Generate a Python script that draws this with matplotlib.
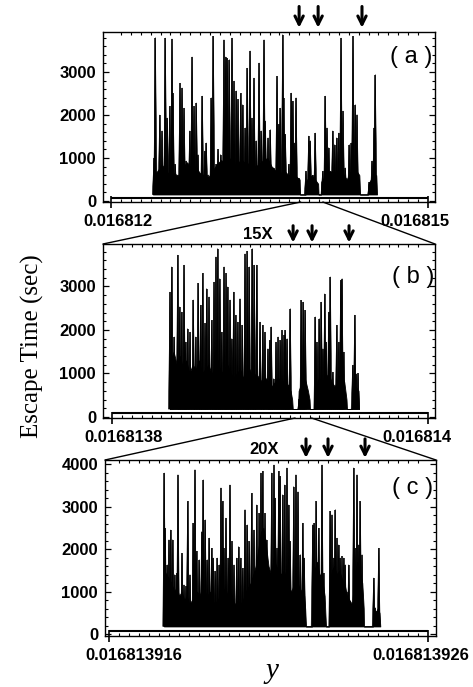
import numpy as np
import matplotlib
matplotlib.use("Agg")
import matplotlib.pyplot as plt
from matplotlib.patches import ConnectionPatch
from matplotlib.collections import PolyCollection
from matplotlib.ticker import MultipleLocator
import matplotlib.transforms as mtransforms

plt.rcParams['font.family'] = ['Liberation Sans', 'DejaVu Sans']

# ---------------- panel (a): y = 0.016812 + off * 1e-9 ----------------
a_x0, a_unit, a_span = 0.016812, 1e-9, 3000
a_ticklabels = ['0.016812', '0.016815']
a_yticks = [0, 1000, 2000, 3000]
a_base, a_floor = 70, 150
a_env_x = [397, 400, 440, 480, 520, 560, 600, 640, 680, 720, 760, 800, 840, 880, 920, 960,
           1000, 1040, 1080, 1120, 1160, 1200, 1240, 1280, 1320, 1360, 1400, 1440, 1480, 1520,
           1560, 1600, 1640, 1680, 1720, 1760, 1785, 1789, 1841, 1845, 1870, 1900, 1930, 1960,
           1964, 1987, 1990, 2030, 2070, 2110, 2150, 2190, 2230, 2270, 2310, 2350, 2357, 2432,
           2436, 2470, 2510, 2517]
a_env_y = [150, 600, 700, 850, 700, 600, 650, 550, 800, 900, 750, 800, 650, 600, 550, 700,
           850, 950, 900, 1000, 850, 900, 950, 850, 900, 800, 850, 950, 1000, 800,
           700, 650, 700, 600, 650, 550, 500, 150, 150, 450, 550, 600, 500, 400,
           150, 150, 450, 600, 700, 650, 700, 650, 500, 700, 750, 600, 150, 150,
           400, 550, 600, 150]
a_spk_x = [407, 420, 461, 483, 514, 533, 555, 577, 587, 609, 634, 653, 672, 691, 713, 745,
           767, 786, 808, 823, 864, 887, 902, 918, 950, 968, 997, 1013, 1038, 1069, 1085,
           1101, 1120, 1145, 1164, 1186, 1202, 1227, 1246, 1271, 1290, 1316, 1334, 1353,
           1375, 1401, 1423, 1448, 1461, 1486, 1508, 1540, 1571, 1587, 1602, 1625, 1634,
           1650, 1682, 1706, 1720, 1735, 1751, 1776, 1845, 1871, 1886, 1909, 1933, 1950,
           2003, 2028, 2044, 2060, 2076, 2098, 2117, 2136, 2155, 2177, 2196, 2218, 2234,
           2255, 2274, 2290, 2312, 2328, 2344, 2445, 2470, 2489, 2501]
a_spk_y = [1000, 3800, 2000, 1630, 3790, 1930, 2200, 3770, 2500, 850, 610, 2740, 2630, 2160,
           930, 1630, 3350, 2200, 2280, 1080, 2440, 1160, 1350, 610, 2400, 3830, 850, 1200,
           1080, 3750, 3350, 3320, 3290, 3790, 2790, 2560, 2360, 2500, 2240, 1700, 3090,
           3490, 1930, 2860, 1400, 3210, 1630, 3750, 1860, 1470, 1660, 770, 2900, 1780,
           2160, 3870, 2400, 1550, 850, 2510, 2320, 1350, 2400, 530, 690, 1510, 1400, 600,
           1580, 370, 690, 2440, 1700, 1240, 600, 1630, 1310, 1470, 1580, 3790, 2090, 770,
           460, 1310, 1350, 3830, 2240, 2010, 400, 430, 930, 1700, 2940]
a_arrows = [1780, 1960, 2375]

# ---------------- panel (b): y = 0.0168138 + off * 1e-10 ----------------
b_x0, b_unit, b_span = 0.0168138, 1e-10, 2000
b_ticklabels = ['0.0168138', '0.016814']
b_yticks = [0, 1000, 2000, 3000]
b_base, b_floor = 90, 180
b_env_x = [367, 370, 390, 410, 430, 450, 470, 490, 510, 530, 550, 570, 590, 610, 630, 650,
           670, 690, 710, 730, 750, 770, 790, 810, 830, 850, 870, 890, 910, 930, 950, 970,
           990, 1010, 1030, 1050, 1070, 1090, 1110, 1130, 1140, 1144, 1177, 1181, 1200, 1220,
           1240, 1250, 1253, 1285, 1289, 1310, 1330, 1350, 1370, 1390, 1410, 1430, 1450,
           1470, 1484, 1487, 1519, 1522, 1540, 1560, 1563]
b_env_y = [180, 1300, 1500, 1200, 1400, 1100, 1300, 1000, 1200, 1100, 1300, 1000, 1100, 1200,
           1000, 1100, 1300, 1000, 1100, 1200, 1000, 900, 1000, 1100, 900, 1000, 1100, 900,
           1000, 900, 800, 900, 800, 700, 800, 900, 800, 850, 700, 600, 400, 180, 180, 600,
           800, 900, 600, 400, 180, 180, 700, 900, 800, 900, 1000, 800, 700, 900, 1000, 800,
           400, 180, 180, 500, 700, 600, 180]
b_spk_x = [367, 378, 394, 416, 428, 441, 456, 466, 479, 494, 515, 530, 546, 561, 574, 589,
           599, 614, 631, 646, 658, 669, 682, 694, 709, 722, 732, 747, 758, 770, 783, 796,
           810, 825, 842, 856, 869, 888, 901, 916, 937, 954, 968, 987, 998, 1008, 1023, 1038,
           1051, 1065, 1076, 1089, 1097, 1108, 1118, 1128, 1185, 1198, 1211, 1223, 1287,
           1297, 1312, 1325, 1335, 1346, 1356, 1371, 1382, 1397, 1409, 1422, 1435, 1447,
           1456, 1466, 1523, 1536, 1546, 1557]
b_spk_y = [2870, 3450, 1840, 3720, 2530, 2410, 3490, 1720, 2030, 1950, 2690, 1840, 3070, 2570,
           3300, 2150, 2950, 2760, 2220, 3100, 3680, 3870, 3180, 1950, 3450, 3300, 2990, 2690,
           1800, 2870, 2340, 2180, 2720, 2110, 3750, 3810, 3450, 3870, 3490, 3490, 2180, 2110,
           1950, 1570, 1760, 2070, 880, 1720, 1840, 1760, 1990, 1880, 1990, 1800, 740, 2490,
           420, 2680, 2640, 2450, 2300, 1720, 2260, 2640, 1570, 2830, 1720, 2410, 3220, 1030,
           540, 2110, 1720, 3140, 3180, 1490, 1190, 2340, 990, 1000]
b_arrows = [1146, 1266, 1500]

# ---------------- panel (c): y = 0.016813916 + off * 1e-12 ----------------
c_x0, c_unit, c_span = 0.016813916, 1e-12, 10000
c_ticklabels = ['0.016813916', '0.016813926']
c_yticks = [0, 1000, 2000, 3000, 4000]
c_base, c_floor = 70, 180
c_env_x = [1724, 1730, 1800, 1880, 1960, 2040, 2120, 2200, 2280, 2360, 2440, 2520, 2600,
           2680, 2760, 2840, 2920, 3000, 3080, 3160, 3240, 3320, 3400, 3480, 3560, 3640,
           3720, 3800, 3880, 3960, 4040, 4120, 4200, 4280, 4360, 4440, 4520, 4600, 4680,
           4760, 4840, 4920, 5000, 5080, 5160, 5240, 5320, 5400, 5480, 5560, 5640, 5720,
           5800, 5880, 5960, 6040, 6120, 6150, 6176, 6364, 6380, 6440, 6520, 6600, 6680,
           6760, 6782, 6803, 6897, 6920, 6990, 7060, 7140, 7220, 7300, 7380, 7460, 7540,
           7620, 7700, 7780, 7860, 7940, 7985, 7994, 8276, 8290, 8350, 8420, 8480, 8505]
c_env_y = [180, 1500, 1400, 1300, 1200, 1000, 1100, 900, 1000, 800, 900, 700, 800, 900, 1000,
           900, 1100, 1000, 900, 1000, 800, 700, 800, 900, 1000, 1100, 900, 1000, 800, 700,
           800, 700, 800, 1000, 1100, 1200, 1400, 1600, 2000, 2400, 2500, 2100, 1600, 1400,
           1800, 1600, 1500, 1400, 1500, 1300, 1100, 1000, 1200, 1300, 1100, 1000, 900, 600,
           180, 180, 1000, 1500, 1700, 1400, 1300, 900, 500, 180, 180, 1200, 1500, 1600,
           1400, 1500, 1300, 1200, 900, 800, 700, 1400, 1700, 1500, 1200, 600, 180, 180, 600,
           500, 600, 500, 180]
c_spk_x = [1734, 1766, 1829, 1881, 1934, 1996, 2059, 2122, 2163, 2226, 2289, 2351, 2414,
           2466, 2539, 2602, 2644, 2696, 2748, 2832, 2905, 2957, 3020, 3082, 3145, 3218,
           3270, 3333, 3396, 3458, 3511, 3563, 3605, 3668, 3741, 3793, 3856, 3919, 4002,
           4065, 4127, 4190, 4264, 4336, 4399, 4472, 4546, 4629, 4713, 4765, 4817, 4891,
           4943, 5027, 5100, 5173, 5214, 5267, 5320, 5370, 5445, 5508, 5580, 5634, 5684,
           5759, 5790, 5862, 5925, 5997, 6072, 6123, 6385, 6437, 6500, 6574, 6625, 6678,
           6730, 6938, 6991, 7044, 7095, 7148, 7201, 7252, 7305, 7358, 7408, 7461, 7515,
           7565, 7618, 7671, 7722, 7775, 7828, 7879, 7932, 8298, 8349, 8402, 8455]
c_spk_y = [3790, 2490, 1630, 2220, 2450, 2220, 1400, 1430, 3750, 690, 1900, 1160, 1120, 3120,
           1400, 660, 2610, 3870, 1950, 1750, 2410, 3630, 2690, 1750, 2260, 2020, 1790, 1480,
           1790, 1630, 3440, 3120, 2020, 2730, 1790, 3510, 2180, 1630, 1790, 2060, 1790, 1550,
           2930, 2570, 2180, 3310, 2450, 3040, 2840, 3790, 3830, 2840, 2220, 1400, 3790, 3980,
           3200, 2020, 3830, 3710, 3280, 3510, 3910, 3040, 2180, 850, 3470, 3750, 3350, 1870,
           2610, 1790, 2570, 2610, 3120, 2490, 1400, 3980, 1430, 2890, 2810, 1790, 2930, 2260,
           2100, 1790, 1830, 1790, 1630, 1000, 1630, 770, 620, 3910, 2020, 3750, 2100, 3120,
           1870, 1320, 620, 540, 2020]
c_arrows = [6176, 6866, 8026]

zoom_labels = ['15X', '20X']

# ---------------- layout ----------------
W, H = 473, 687
fig = plt.figure(figsize=(W / 100, H / 100), dpi=100)


def px_axes(l, r, t, b):
    return [l / W, 1 - b / H, (r - l) / W, (b - t) / H]


panels = [
    dict(rect=px_axes(103, 435, 32, 202), x0=a_x0, unit=a_unit, span=a_span,
         xl=(-76, 3066), yl=(-25, 3930), tl=a_ticklabels, yt=a_yticks,
         base=a_base, floor=a_floor, ex=a_env_x, ey=a_env_y, sx=a_spk_x, sy=a_spk_y,
         arrows=a_arrows, arr=(1.025, 1.15), lab='( a )', labpos=(0.928, 0.853),
         tlshift=(7, -13), hw=1.7),
    dict(rect=px_axes(103, 435, 244, 418), x0=b_x0, unit=b_unit, span=b_span,
         xl=(-57, 2044), yl=(-25, 3975), tl=b_ticklabels, yt=b_yticks,
         base=b_base, floor=b_floor, ex=b_env_x, ey=b_env_y, sx=b_spk_x, sy=b_spk_y,
         arrows=b_arrows, arr=(1.008, 1.105), lab='( b )', labpos=(0.934, 0.81),
         tlshift=(12, -11), hw=1.5),
    dict(rect=px_axes(105, 436, 460, 636), x0=c_x0, unit=c_unit, span=c_span,
         xl=(-125, 10251), yl=(-45, 4095), tl=c_ticklabels, yt=c_yticks,
         base=c_base, floor=c_floor, ex=c_env_x, ey=c_env_y, sx=c_spk_x, sy=c_spk_y,
         arrows=c_arrows, arr=(1.012, 1.12), lab='( c )', labpos=(0.93, 0.84),
         tlshift=(25, -7), hw=1.5),
]

axes = []
for p in panels:
    ax = fig.add_axes(p['rect'])
    axes.append(ax)
    ax.set_xlim(*p['xl'])
    ax.set_ylim(*p['yl'])
    # flat baseline over the whole scanned interval
    ax.plot([0, p['span']], [p['base'], p['base']], color='k', lw=1.5,
            solid_capstyle='butt', zorder=2)
    # dense low-level mass
    ex = np.array(p['ex'], float)
    ey = np.array(p['ey'], float)
    ax.fill_between(ex, p['floor'], ey, color='k', lw=0.6, zorder=3)
    # individual escape-time spikes: tapered bursts with a thin tip
    px_per_unit = (p['rect'][2] * W) / (p['xl'][1] - p['xl'][0])
    w = p['hw'] / px_per_unit
    tris = [[(x - w, p['floor']), (x, h), (x + w, p['floor'])]
            for x, h in zip(p['sx'], p['sy'])]
    ax.add_collection(PolyCollection(tris, facecolors='k', edgecolors='k',
                                     linewidths=0.4, zorder=4))
    ax.vlines(p['sx'], p['floor'], p['sy'], color='k', lw=1.1, zorder=4)

    ax.set_xticks([0, p['span']])
    ax.set_xticklabels(p['tl'])
    ax.xaxis.set_minor_locator(MultipleLocator(p['span'] / 32))
    ax.set_yticks(p['yt'])
    ax.yaxis.set_minor_locator(MultipleLocator(200))
    ax.tick_params(axis='x', which='major', direction='inout', length=9, width=1.2,
                   top=False, labelsize=12, pad=4)
    ax.tick_params(axis='x', which='minor', direction='in', length=2.5, width=0.8,
                   top=True, bottom=True)
    ax.tick_params(axis='y', which='major', direction='in', length=4, width=0.9,
                   right=True, labelsize=12, pad=5)
    ax.tick_params(axis='y', which='minor', direction='in', length=2.5, width=0.8,
                   right=True)
    for lab in ax.get_xticklabels() + ax.get_yticklabels():
        lab.set_fontweight('bold')
    for lab, dx in zip(ax.get_xticklabels(), p['tlshift']):
        lab.set_transform(lab.get_transform() +
                          mtransforms.ScaledTranslation(dx / 100, 0, fig.dpi_scale_trans))
    for s in ax.spines.values():
        s.set_linewidth(1.0)

    # arrows above the frame marking the gaps
    for xa in p['arrows']:
        ax.annotate('', xy=(xa, p['arr'][0]), xycoords=('data', 'axes fraction'),
                    xytext=(xa, p['arr'][1]), textcoords=('data', 'axes fraction'),
                    arrowprops=dict(arrowstyle='->', lw=2.2, color='k',
                                    mutation_scale=15, shrinkA=0, shrinkB=0),
                    annotation_clip=False)
    ax.text(p['labpos'][0], p['labpos'][1], p['lab'], transform=ax.transAxes,
            ha='center', va='center', fontsize=17)

# zoom connection lines
for i in range(2):
    pa, pb = panels[i], panels[i + 1]
    axa, axb = axes[i], axes[i + 1]
    for xb_off, corner in [(pb['xl'][0], (0, 1)), (pb['xl'][1], (1, 1))]:
        real = pb['x0'] + xb_off * pb['unit']
        xa_off = (real - pa['x0']) / pa['unit']
        con = ConnectionPatch(xyA=(xa_off, pa['yl'][0]), coordsA=axa.transData,
                              xyB=corner, coordsB=axb.transAxes, color='k', lw=1.0)
        fig.add_artist(con)

fig.text(258 / W, 1 - 235 / H, zoom_labels[0], ha='center', va='center',
         fontsize=12, fontweight='bold')
fig.text(264 / W, 1 - 450 / H, zoom_labels[1], ha='center', va='center',
         fontsize=12, fontweight='bold')

fig.text(32 / W, 1 - 346 / H, 'Escape Time (sec)', rotation=90, ha='center', va='center',
         fontsize=18, family=['Liberation Serif', 'DejaVu Serif'])
fig.text(272 / W, 1 - 678 / H, 'y', ha='center', va='baseline', fontsize=21,
         style='italic', family=['Liberation Serif', 'DejaVu Serif'])

fig.savefig('out.png', dpi=100)
